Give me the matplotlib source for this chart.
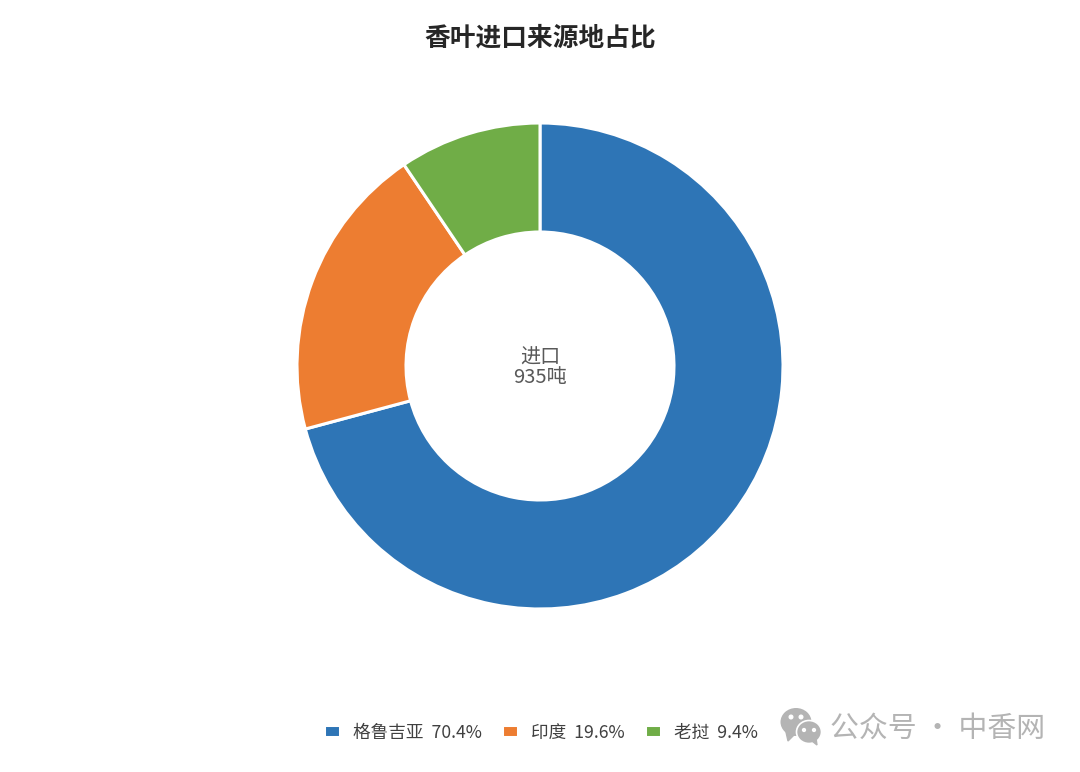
import matplotlib
matplotlib.use("Agg")
import matplotlib.pyplot as plt
from matplotlib.patches import Ellipse, Polygon

plt.rcParams['font.family'] = ['Noto Sans CJK SC', 'DejaVu Sans']

title = "香叶进口来源地占比"
categories = ["格鲁吉亚", "印度", "老挝"]
shares = [70.4, 19.6, 9.4]
colors = ["#2E75B6", "#ED7D31", "#70AD47"]
center_lines = "进口\n935吨"
watermark = "公众号 · 中香网"

W, H = 1080, 772
fig = plt.figure(figsize=(W / 100, H / 100), dpi=100, facecolor="white")
ax = fig.add_axes([0, 0, 1, 1])

wedges, _ = ax.pie(
    shares, colors=colors, startangle=90, counterclock=False,
    center=(540, H - 366), radius=243, frame=True,
    wedgeprops=dict(width=109, edgecolor="white", linewidth=2.2),
)
ax.set_xlim(0, W)
ax.set_ylim(0, H)
ax.set_aspect("equal")
ax.axis("off")

fig.text(540 / W, 1 - 38 / H, title, ha="center", va="center",
         fontsize=18.5, fontweight="bold", color="#262626")
ax.text(540, H - 367.5, center_lines, ha="center", va="center",
        fontsize=14.5, color="#595959", linespacing=0.9)

labels = [f"{c}  {v}%" for c, v in zip(categories, shares)]
ax.legend(wedges, labels, ncol=3, loc="center left",
          bbox_to_anchor=(323.5 / W, 1 - 732.5 / H), frameon=False,
          fontsize=12.7, labelcolor="#404040",
          handlelength=0.95, handleheight=0.68, handletextpad=0.72,
          columnspacing=1.12, borderpad=0, borderaxespad=0)

# watermark
grey = "#b4b4b4"
ax.add_patch(Ellipse((796, H - 722), 31, 28, color=grey, ec="none"))
ax.add_patch(Ellipse((809, H - 732), 25, 23, fc=grey, ec="white", lw=1.2, zorder=3))
ax.add_patch(Polygon([(786, H - 732), (788, H - 741), (794, H - 735)], color=grey))
ax.add_patch(Polygon([(812, H - 741), (817, H - 745), (816, H - 738)], color=grey, zorder=3))
for x, y, r, c in [(791, 717, 3, "white"), (801, 717, 3, "white"),
                   (804, 730, 2.4, "white"), (814, 730, 2.4, "white")]:
    ax.add_patch(Ellipse((x, H - y), r * 1.2, r * 1.2, color=c, zorder=4))
ax.text(830, H - 729, watermark, ha="left", va="center", fontsize=20.8, color=grey)

fig.savefig("out.png", dpi=100, facecolor="white")
